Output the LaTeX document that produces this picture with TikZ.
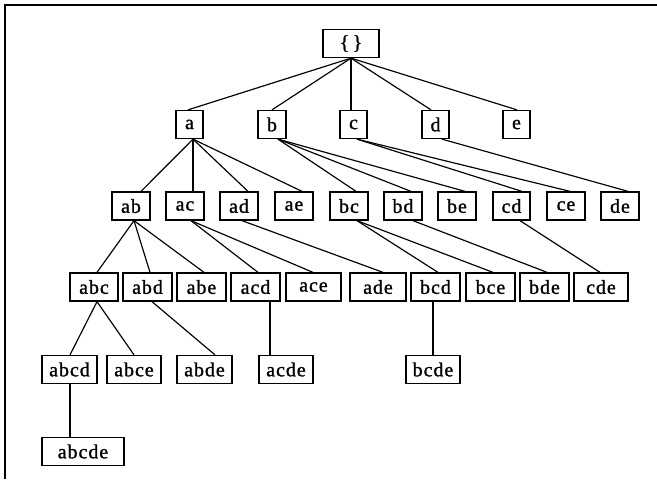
\documentclass[tikz,border=0pt]{standalone}
\usepackage{fontspec}
\setmainfont{Liberation Serif}
\newfontfamily\boxfont[LetterSpace=5,FakeBold=1.2]{Liberation Serif}
\usetikzlibrary{calc}
\begin{document}
\begin{tikzpicture}[x=0.3mm,y=-0.3mm,
  box/.style={draw, line width=1.1pt, inner sep=0pt, minimum height=8.4mm,
    font=\boxfont\fontsize{17}{20}\selectfont},
  bw/.style={minimum width=#1*0.3mm},
  link/.style={line width=1pt}]
\useasboundingbox (0,0) rectangle (657,479);
\draw[line width=1.8pt] (5,479) -- (5,5) -- (657,5);
% level 0
\node[box,bw=56] (r) at (351,43.5) {\{\,\}};
% level 1
\node[box,bw=27] (a) at (189.5,124.5) {a};
\node[box,bw=28] (b) at (272,124.5) {b};
\node[box,bw=27] (c) at (353.5,124.5) {c};
\node[box,bw=27] (d) at (435.5,124.5) {d};
\node[box,bw=27] (e) at (516.5,124.5) {e};
% level 2
\node[box,bw=38] (ab) at (131,206) {ab};
\node[box,bw=38] (ac) at (185,206) {ac};
\node[box,bw=38] (ad) at (239,206) {ad};
\node[box,bw=38] (ae) at (294,206) {ae};
\node[box,bw=38] (bc) at (349,206) {bc};
\node[box,bw=38] (bd) at (403,206) {bd};
\node[box,bw=38] (be) at (457,206) {be};
\node[box,bw=37] (cd) at (511.5,206) {cd};
\node[box,bw=38] (ce) at (566,206) {ce};
\node[box,bw=38] (de) at (620,206) {de};
% level 3
\node[box,bw=48] (abc) at (94,287) {abc};
\node[box,bw=49] (abd) at (147.5,287) {abd};
\node[box,bw=49] (abe) at (201.5,287) {abe};
\node[box,bw=49] (acd) at (255.5,287) {acd};
\node[box,bw=55] (ace) at (313.5,287) {ace};
\node[box,bw=56] (ade) at (378,287) {ade};
\node[box,bw=49] (bcd) at (435.5,287) {bcd};
\node[box,bw=49] (bce) at (490.5,287) {bce};
\node[box,bw=49] (bde) at (544.5,287) {bde};
\node[box,bw=54] (cde) at (601,287) {cde};
% level 4
\node[box,bw=55] (abcd) at (69.5,369.5) {abcd};
\node[box,bw=54] (abce) at (134,369.5) {abce};
\node[box,bw=55] (abde) at (204.5,369.5) {abde};
\node[box,bw=54] (acde) at (286,369.5) {acde};
\node[box,bw=54] (bcde) at (433,369.5) {bcde};
% level 5
\node[box,bw=82] (abcde) at (83,451.5) {abcde};
% edges
\newcommand\edge[4]{\draw[link] ($(#1.south)+(#2,0)$) -- ($(#3.north)+(#4,0)$);}
\edge{r}{0}{a}{-1.5}
\edge{r}{0}{b}{0}
\edge{r}{0}{c}{-2.5}
\edge{r}{0}{d}{-4.5}
\edge{r}{0}{e}{0.5}
\edge{a}{3.5}{ab}{10}
\edge{a}{3.5}{ac}{8}
\edge{a}{3.5}{ad}{9}
\edge{a}{3.5}{ae}{8}
\edge{b}{6}{bc}{7}
\edge{b}{6}{bd}{8}
\edge{b}{6}{be}{8}
\edge{c}{3.5}{cd}{10.5}
\edge{c}{3.5}{ce}{4}
\edge{d}{6.5}{de}{8}
\edge{ab}{3}{abc}{3}
\edge{ab}{3}{abd}{2.5}
\edge{ab}{3}{abe}{2.5}
\edge{ac}{6}{acd}{2.5}
\edge{ac}{6}{ace}{-0.5}
\edge{ad}{3}{ade}{5}
\edge{bc}{8}{bcd}{2.5}
\edge{bc}{8}{bce}{2.5}
\edge{bd}{10}{bde}{2.5}
\edge{cd}{8.5}{cde}{-1}
\edge{abc}{3}{abcd}{0.5}
\edge{abc}{3}{abce}{0}
\edge{abd}{4.5}{abde}{10.5}
\edge{acd}{14.5}{acde}{-16}
\edge{abcd}{0.5}{abcde}{-13}
\edge{bcd}{-2.5}{bcde}{0}
\end{tikzpicture}
\end{document}
